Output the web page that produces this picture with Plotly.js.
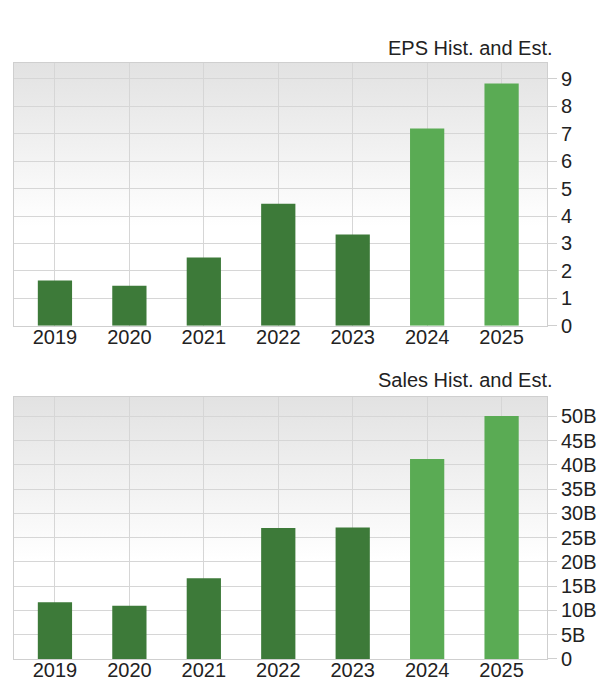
<!DOCTYPE html>
<html>
<head>
<meta charset="utf-8">
<script src="https://cdn.plot.ly/plotly-3.0.1.min.js"></script>
<style>
html,body{margin:0;padding:0;background:#fff;}
#chart{width:616px;height:688px;}
</style>
</head>
<body>
<div id="chart"></div>
<script>
// ---- data ----
var years = ["2019", "2020", "2021", "2022", "2023", "2024", "2025"];
var isEstimate = [false, false, false, false, false, true, true];
var epsValues = [1.65, 1.46, 2.49, 4.45, 3.33, 7.19, 8.83];
var salesValues = [11.7e9, 10.95e9, 16.65e9, 27.0e9, 27.1e9, 41.2e9, 50.1e9];
var epsTickVals = [0, 1, 2, 3, 4, 5, 6, 7, 8, 9];
var epsTickText = ["0", "1", "2", "3", "4", "5", "6", "7", "8", "9"];
var salesTickVals = [0, 5e9, 10e9, 15e9, 20e9, 25e9, 30e9, 35e9, 40e9, 45e9, 50e9];
var salesTickText = ["0", "5B", "10B", "15B", "20B", "25B", "30B", "35B", "40B", "45B", "50B"];
var epsTitle = "EPS Hist. and Est.";
var salesTitle = "Sales Hist. and Est.";

// ---- styles ----
var histColor = "#3d7a39";
var estColor = "#5aab54";
var gridColor = "#d6d6d6";
var lineColor = "#cfcfcf";
var textColor = "#222222";
var fontFamily = "Liberation Sans, Arial, sans-serif";
var barColors = isEstimate.map(function (e) { return e ? estColor : histColor; });

var gradSvg = '<svg xmlns="http://www.w3.org/2000/svg" width="100" height="100" preserveAspectRatio="none">' +
  '<defs><linearGradient id="g" x1="0" y1="0" x2="0" y2="1">' +
  '<stop offset="0" stop-color="#e2e2e2"/><stop offset="0.62" stop-color="#ffffff"/><stop offset="1" stop-color="#ffffff"/>' +
  '</linearGradient></defs><rect width="100" height="100" fill="url(#g)"/></svg>';
var gradUri = "data:image/svg+xml;base64," + btoa(gradSvg);

var epsDomain = [0.5592, 1];
var salesDomain = [0, 0.4396];

var traces = [
  {type: "bar", x: years, y: epsValues, xaxis: "x", yaxis: "y", width: 0.46,
   marker: {color: barColors, line: {width: 0}}, hoverinfo: "skip"},
  {type: "bar", x: years, y: salesValues, xaxis: "x2", yaxis: "y2", width: 0.46,
   marker: {color: barColors, line: {width: 0}}, hoverinfo: "skip"}
];

function xAxis(anchor) {
  return {
    anchor: anchor, domain: [0, 1], type: "category", range: [-0.55, 6.61],
    showgrid: true, gridcolor: gridColor, gridwidth: 1,
    showline: true, mirror: true, linecolor: lineColor, linewidth: 1,
    ticks: "", ticklabelstandoff: -7,
    tickfont: {family: fontFamily, size: 20, color: textColor},
    fixedrange: true
  };
}
function yAxis(anchor, domain, range, vals, text) {
  return {
    anchor: anchor, domain: domain, side: "right", range: range,
    tickmode: "array", tickvals: vals, ticktext: text,
    showgrid: true, gridcolor: gridColor, gridwidth: 1, zeroline: false,
    showline: true, mirror: true, linecolor: lineColor, linewidth: 1,
    ticks: "outside", ticklen: 9, tickcolor: lineColor, tickwidth: 1,
    tickfont: {family: fontFamily, size: 20, color: textColor},
    fixedrange: true
  };
}

var layout = {
  width: 616, height: 688,
  margin: {l: 14, r: 69, t: 63, b: 29, pad: 0},
  paper_bgcolor: "#ffffff", plot_bgcolor: "rgba(0,0,0,0)",
  showlegend: false, bargap: 0.54,
  xaxis: xAxis("y"),
  yaxis: yAxis("x", epsDomain, [0, 9.58], epsTickVals, epsTickText),
  xaxis2: xAxis("y2"),
  yaxis2: yAxis("x2", salesDomain, [0, 54e9], salesTickVals, salesTickText),
  images: [
    {source: gradUri, xref: "paper", yref: "paper", x: 0, y: epsDomain[1], sizex: 1,
     sizey: epsDomain[1] - epsDomain[0], sizing: "stretch", xanchor: "left", yanchor: "top", layer: "below"},
    {source: gradUri, xref: "paper", yref: "paper", x: 0, y: salesDomain[1], sizex: 1,
     sizey: salesDomain[1] - salesDomain[0], sizing: "stretch", xanchor: "left", yanchor: "top", layer: "below"}
  ],
  annotations: [
    {text: epsTitle, xref: "paper", yref: "paper", x: 1.015, y: 1.0257, xanchor: "right", yanchor: "middle",
     showarrow: false, font: {family: fontFamily, size: 20, color: textColor}},
    {text: salesTitle, xref: "paper", yref: "paper", x: 1.015, y: 0.4686, xanchor: "right", yanchor: "middle",
     showarrow: false, font: {family: fontFamily, size: 20, color: textColor}}
  ]
};

Plotly.newPlot("chart", traces, layout, {staticPlot: true, displayModeBar: false});
</script>
</body>
</html>
